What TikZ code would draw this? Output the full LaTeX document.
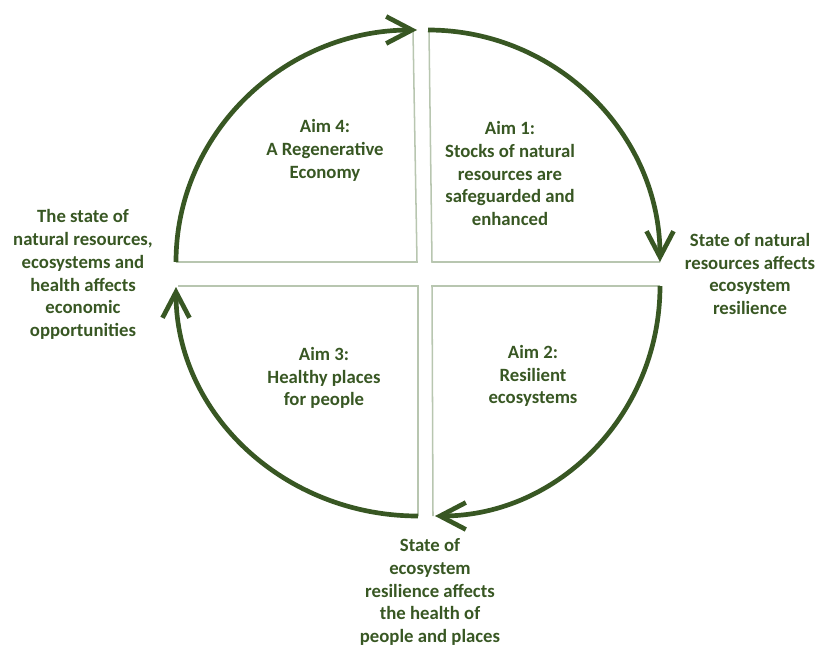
\documentclass[tikz,border=0pt]{standalone}
\usepackage{fontspec}
\setmainfont{Carlito}
\usetikzlibrary{arrows.meta}
\definecolor{aimgreen}{RGB}{56,87,35}
\definecolor{edgegrey}{RGB}{184,198,176}

\begin{document}
\begin{tikzpicture}[x=0.03cm,y=0.03cm,
  aimarc/.style={draw=aimgreen,line width=4pt,-{Straight Barb[length=22pt,width=23pt]}},
  aimedge/.style={draw=edgegrey,line width=1.3pt},
  aimtext/.style={text=aimgreen,align=center,font=\fontsize{16pt}{19.5pt}\selectfont\bfseries}]
\useasboundingbox (0,0) rectangle (819,-648);

% corners of the four quarters
\coordinate (c4) at (417,-262);
\coordinate (c1) at (432,-262);
\coordinate (c2) at (432,-286);
\coordinate (c3) at (418,-286);

% straight sides
\draw[aimedge] (176,-262)--(c4)--(413,-31);
\draw[aimedge] (429,-31)--(c1)--(660,-262);
\draw[aimedge] (660,-286)--(c2)--(433,-516);
\draw[aimedge] (178,-286)--(c3)--(418,-516);

% round sides with arrows
\draw[aimarc] (176,-262) arc[start angle=180,end angle=90,x radius=241,y radius=232];
\draw[aimarc] (428,-30) arc[start angle=90,end angle=0,x radius=232,y radius=232];
\draw[aimarc] (660,-286) arc[start angle=0,end angle=-90,x radius=225,y radius=230];
\draw[aimarc] (418,-516) arc[start angle=270,end angle=180,x radius=242,y radius=229];

% aims
\node[aimtext] (aim4) at (325,-150.5) {Aim 4:\\A Regenerative\\Economy};
\node[aimtext] (aim1) at (510,-173.5) {Aim 1:\\Stocks of natural\\resources are\\safeguarded and\\enhanced};
\node[aimtext] (aim3) at (324,-378) {Aim 3:\\Healthy places\\for people};
\node[aimtext] (aim2) at (533,-376) {Aim 2:\\Resilient\\ecosystems};

% links between aims
\node[aimtext] (l41) at (83,-274.5) {The state of\\natural resources,\\ecosystems and\\health affects\\economic\\opportunities};
\node[aimtext] (l12) at (750,-274) {State of natural\\resources affects\\ecosystem\\resilience};
\node[aimtext] (l23) at (430,-592) {State of\\ecosystem\\resilience affects\\the health of\\people and places};
\end{tikzpicture}
\end{document}
